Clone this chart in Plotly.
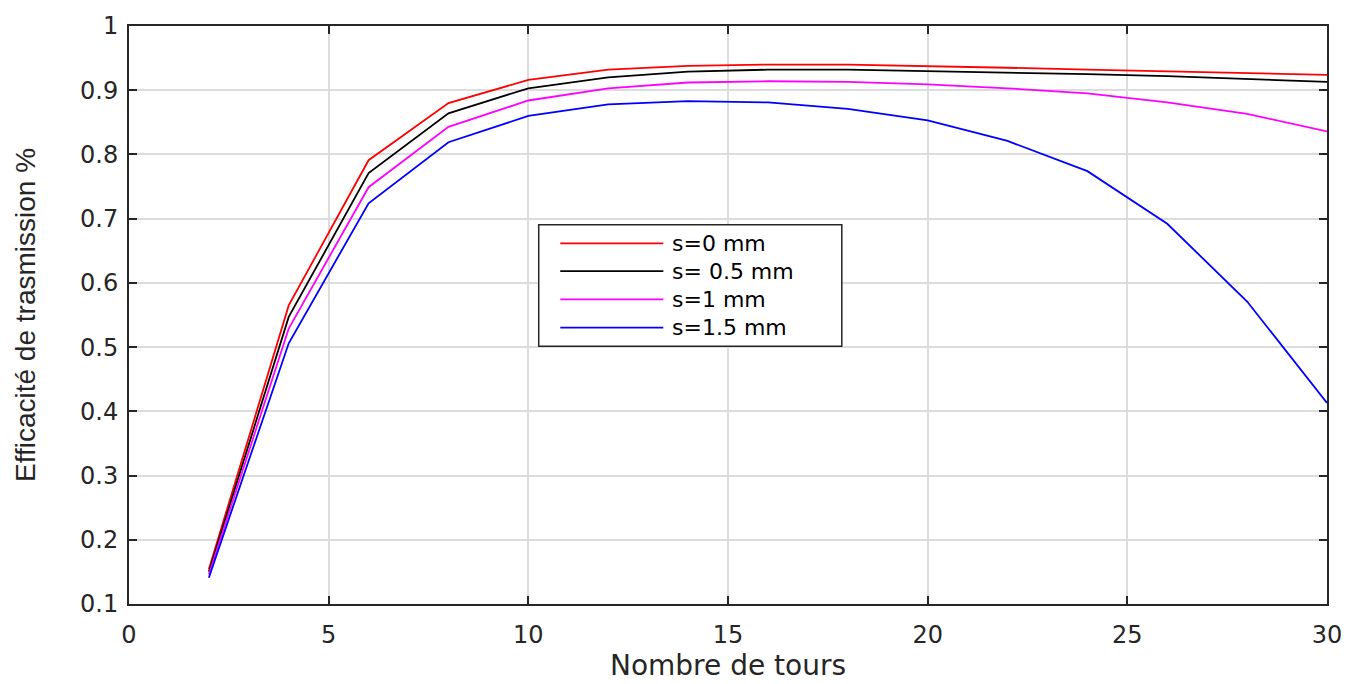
import plotly.graph_objects as go

# Number of turns
tours = [2, 4, 6, 8, 10, 12, 14, 16, 18, 20, 22, 24, 26, 28, 30]

# Transmission efficiency for each spacing s
eff_s0 = [0.154, 0.565, 0.791, 0.880, 0.916, 0.932, 0.938, 0.940, 0.940, 0.938,
          0.935, 0.932, 0.929, 0.927, 0.924]
eff_s05 = [0.150, 0.547, 0.771, 0.864, 0.903, 0.920, 0.929, 0.932, 0.932, 0.930,
           0.927, 0.925, 0.922, 0.918, 0.913]
eff_s1 = [0.146, 0.529, 0.749, 0.843, 0.884, 0.903, 0.912, 0.914, 0.913, 0.909,
          0.903, 0.895, 0.881, 0.863, 0.836]
eff_s15 = [0.141, 0.506, 0.724, 0.819, 0.860, 0.878, 0.883, 0.881, 0.871, 0.853,
           0.821, 0.774, 0.692, 0.571, 0.413]

series_names = ["s=0 mm", "s= 0.5 mm", "s=1 mm", "s=1.5 mm"]
series_values = [eff_s0, eff_s05, eff_s1, eff_s15]
series_colors = ["#ff0000", "#000000", "#ff00ff", "#0000ff"]

x_ticks = [0, 5, 10, 15, 20, 25, 30]
y_ticks = [0.1, 0.2, 0.3, 0.4, 0.5, 0.6, 0.7, 0.8, 0.9, 1]

fig = go.Figure()
for name, vals, col in zip(series_names, series_values, series_colors):
    fig.add_trace(go.Scatter(x=tours, y=vals, mode="lines", name=name,
                             line=dict(color=col, width=1.8), showlegend=False))

# Boxed legend with long line samples
leg_x0, leg_x1, leg_y0, leg_y1 = 0.342, 0.595, 0.446, 0.656
line_x0, line_x1, text_x = 0.360, 0.446, 0.452
entry_y = [0.624, 0.576, 0.527, 0.478]
shapes = [dict(type="rect", xref="paper", yref="paper", x0=leg_x0, x1=leg_x1,
               y0=leg_y0, y1=leg_y1, line=dict(color="#262626", width=1.5),
               fillcolor="white", layer="above")]
annotations = []
for name, col, yy in zip(series_names, series_colors, entry_y):
    shapes.append(dict(type="line", xref="paper", yref="paper", x0=line_x0, x1=line_x1,
                       y0=yy, y1=yy, line=dict(color=col, width=1.8), layer="above"))
    annotations.append(dict(xref="paper", yref="paper", x=text_x, y=yy, text=name,
                            showarrow=False, xanchor="left", yanchor="middle",
                            font=dict(family="DejaVu Sans", size=22, color="#000000")))

axis_common = dict(
    showline=True, linecolor="#262626", linewidth=2, mirror="allticks",
    ticks="inside", ticklen=8, tickwidth=2, tickcolor="#262626",
    showgrid=True, gridcolor="#dcdcdc", gridwidth=2, zeroline=False,
    tickfont=dict(family="DejaVu Sans", size=24, color="#262626"),
)

fig.update_layout(
    width=1365, height=684,
    margin=dict(l=129, r=38, t=19, b=77),
    paper_bgcolor="white", plot_bgcolor="white",
    shapes=shapes, annotations=annotations,
    xaxis=dict(axis_common, range=[0, 30], tickvals=x_ticks,
               ticktext=[str(v) for v in x_ticks], ticklabelstandoff=8,
               title=dict(text="Nombre de tours", standoff=4,
                          font=dict(family="DejaVu Sans", size=28, color="#262626"))),
    yaxis=dict(axis_common, range=[0.1, 1], tickvals=y_ticks,
               ticktext=[f"{v:g}" for v in y_ticks], ticklabelstandoff=4,
               title=dict(text="Efficacité de trasmission %", standoff=36,
                          font=dict(family="Liberation Sans", size=28, color="#262626"))),
)

fig.write_html("out.html")
